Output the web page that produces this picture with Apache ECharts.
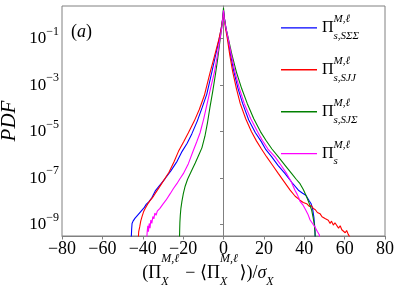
<!DOCTYPE html>
<html><head><meta charset="utf-8">
<script src="https://cdn.jsdelivr.net/npm/echarts@6/dist/echarts.min.js"></script>
<style>html,body{margin:0;padding:0;background:#fff}#c{width:399px;height:290px}</style>
</head><body><div id="c"></div>
<script>
// ---- data (x in units of sigma, values are log10 of PDF) ----
const xTicks = [-80, -60, -40, -20, 0, 20, 40, 60, 80];
const yTickExps = [-9, -7, -5, -3, -1];
const seriesNames = ['SΣΣ', 'SJJ', 'SJΣ', 's'];
const legendSubs = ['s,SΣΣ', 's,SJJ', 's,SJΣ', 's'];
const colors = ['#0000ff', '#ff0000', '#008000', '#ff00ff'];

const blueX = [-45.7,-45.5,-45.3,-44.8,-44.3,-43.8,-43.2,-42.6,-41.8,-41.0,-40.2,-39.2,-38.2,-37.0,-35.5,-33.8,-31.5,-29,-26,-23,-20.5,-18,-15.7,-13,-10.5,-8.3,-5.8,-4,-2.2,-1.2,-0.5,0,
  0.5,1.2,2.2,3.5,5.2,7.2,9.5,12.5,15.8,18.5,21,23.9,27,30.5,34,37.1,39.2,40.8,42.3,43.4,44.2,44.8,45.2,45.5];
const blueLog = [-9.6,-9.2,-8.95,-8.85,-8.9,-8.72,-8.66,-8.6,-8.52,-8.44,-8.38,-8.26,-8.12,-8.02,-7.85,-7.55,-7.3,-7.03,-6.68,-6.28,-5.85,-5.5,-5.1,-4.55,-3.95,-3.4,-2.45,-1.75,-1.05,-0.6,-0.2,0.2,
  -0.15,-0.55,-1.0,-1.7,-2.44,-3.15,-3.8,-4.5,-5.05,-5.4,-5.78,-6.09,-6.45,-6.81,-7.2,-7.52,-7.65,-7.74,-7.95,-8.1,-8.35,-8.7,-9.1,-9.6];

const redX = [-42.2,-42.0,-41.5,-41.0,-40.4,-39.6,-38.8,-37.6,-36.5,-35,-33.9,-32,-30,-27,-24.5,-22.3,-19.8,-17.4,-14.5,-12,-9.5,-6.6,-4.3,-2.2,-1.1,-0.4,0,
  0.4,1.0,1.9,3.1,4.6,6.4,8.3,11,13.8,16.3,18.8,21.4,24.3,27.2,30,33,35.5,37.9,39.5,41.2,42.5,43.5,44.5,45.5,46.5,47.8,48.8,49.6,50.5,51.9,52.8,53.5,54.4,55.2,56.1,57,57.8,58.6,59.4,60.3,61,61.8,62.5,63];
const redLog = [-9.6,-9.3,-9.1,-8.85,-8.67,-8.45,-8.31,-8.12,-7.98,-7.82,-7.67,-7.42,-7.15,-6.75,-6.3,-5.85,-5.45,-5.05,-4.55,-4.05,-3.45,-2.44,-1.7,-1.0,-0.55,-0.15,0.12,
  -0.15,-0.55,-1.0,-1.7,-2.44,-3.15,-3.8,-4.45,-5.0,-5.4,-5.75,-6.09,-6.45,-6.81,-7.15,-7.52,-7.78,-7.95,-8.05,-8.1,-8.22,-8.18,-8.31,-8.36,-8.48,-8.53,-8.66,-8.6,-8.75,-8.81,-8.95,-8.85,-9.02,-8.92,-8.98,-9.15,-9.05,-9.22,-9.17,-9.35,-9.25,-9.42,-9.38,-9.6];

const greenX = [-21.8,-21.7,-21.6,-21.4,-21.1,-20.6,-19.9,-19.0,-17.8,-16,-14,-12.3,-10.7,-9.2,-7.9,-6.7,-5.4,-4.1,-3.0,-1.9,-1.0,-0.4,0,
  0.4,1.2,2.4,4.2,6.4,9,11.8,15,18.3,21,24,27.2,30.5,33.8,36,37.9,39.6,41.2,42.5,43.7,44.4,45.0,45.3,45.4];
const greenLog = [-9.6,-9.2,-8.9,-8.6,-8.3,-8.0,-7.67,-7.35,-7.05,-6.72,-6.35,-6.02,-5.7,-5.2,-4.6,-3.95,-3.3,-2.6,-1.95,-1.2,-0.6,-0.15,0.32,
  -0.1,-0.55,-1.0,-1.7,-2.44,-3.15,-3.8,-4.45,-5.0,-5.37,-5.75,-6.09,-6.45,-6.81,-7.05,-7.24,-7.5,-7.81,-8.1,-8.39,-8.7,-9.0,-9.3,-9.6];

const magentaX = [-38.0,-37.8,-37.5,-37.2,-36.8,-36.4,-36.0,-35.5,-35.0,-34.5,-34.0,-33.4,-32.8,-32.2,-31.5,-30.8,-30.0,-28.5,-26.4,-24.8,-23.1,-21.5,-19.9,-17.4,-14.9,-13.3,-11.6,-9.8,-8.1,-6.3,-4.5,-3.0,-1.7,-0.8,-0.3,0,
  0.4,1.1,2.3,3.9,5.7,7.9,10.3,13.5,16.8,19.2,22,25.5,28.5,31.3,33.5,35.4,36.5,37.3,37.9,38.6,39.3,40.0,40.6,41.2,41.8,42.4,42.9,43.5,44.1,44.7,45.3,45.9,46.5,47.0,47.5,47.8];
const magentaLog = [-9.6,-9.3,-9.05,-9.3,-8.95,-9.15,-8.8,-8.95,-8.65,-8.75,-8.5,-8.6,-8.42,-8.5,-8.3,-8.35,-8.12,-7.95,-7.67,-7.45,-7.24,-7.02,-6.81,-6.38,-5.8,-5.45,-5.05,-4.45,-3.8,-3.1,-2.44,-1.7,-1.0,-0.5,-0.1,0.22,
  -0.15,-0.5,-1.0,-1.7,-2.44,-3.15,-3.8,-4.45,-5.0,-5.37,-5.75,-6.09,-6.45,-6.81,-7.15,-7.52,-7.7,-7.85,-8.0,-7.95,-8.15,-8.1,-8.35,-8.3,-8.55,-8.5,-8.8,-8.75,-8.95,-8.9,-9.1,-9.05,-9.3,-9.25,-9.45,-9.6];

const seriesX = [blueX, redX, greenX, magentaX];
const seriesLog = [blueLog, redLog, greenLog, magentaLog];

// ---- layout helpers ----
const FF = '"Liberation Serif", "DejaVu Serif", serif';
const ctx = document.createElement('canvas').getContext('2d');
function tw(t, px, st) { ctx.font = (st || 'normal') + ' ' + px + 'px ' + FF; return ctx.measureText(t).width; }
function tok(o) { return Object.assign({ fontFamily: FF, color: '#000', align: 'left', verticalAlign: 'middle' }, o); }

const MAIN = 18, SUB = 12;
const wSup = tw('M,ℓ', SUB, 'italic') + 1.5;
const W1 = tw('(Π', MAIN), W2 = tw(' − ⟨Π', MAIN), W3 = tw('⟩)/', MAIN), WS = tw('σ', MAIN, 'italic'), WX = tw('X', SUB, 'italic') + 1;
const xName =
  '{g1| }{u|M,ℓ}{g2| }{u|M,ℓ}{g3| }\n' +
  '{m1|(Π}{s|X}{m2| − ⟨Π}{s|X}{m3|⟩)/}{i|σ}{s2|X}';
const L1 = { fontSize: SUB, lineHeight: 10 };
const MS = { fontSize: MAIN, lineHeight: 20, padding: [0, 0, 2.4, 0] };
const SS = { fontSize: SUB, fontStyle: 'italic', lineHeight: 12, padding: [15.4, 0, 0, 0] };
const xRich = {
  g1: tok(Object.assign({ width: W1 }, L1)),
  g2: tok(Object.assign({ width: W2 }, L1)),
  g3: tok(Object.assign({ width: W3 + WS + WX }, L1)),
  u: tok(Object.assign({ fontStyle: 'italic', width: wSup }, L1)),
  m1: tok(Object.assign({ width: W1 }, MS)),
  m2: tok(Object.assign({ width: W2 }, MS)),
  m3: tok(Object.assign({ width: W3 }, MS)),
  i: tok(Object.assign({ width: WS, fontStyle: 'italic' }, MS)),
  s: tok(Object.assign({ width: wSup }, SS)),
  s2: tok(Object.assign({ width: WX }, SS))
};

const LP = 16, LS = 11;
const legendRich = {
  g: tok({ width: tw('Π', LP), fontSize: LS, lineHeight: 14, padding: [0, 0, 2.8, 0] }),
  u: tok({ fontSize: LS, fontStyle: 'italic', lineHeight: 14, padding: [0, 0, 2.8, 0] }),
  p: tok({ fontSize: LP, lineHeight: 14, padding: [0, 0, 14, 0] }),
  d: tok({ fontSize: LS, fontStyle: 'italic', lineHeight: 14, padding: [2, 0, 0, 0] })
};

const chart = echarts.init(document.getElementById('c'), null, { renderer: 'canvas' });
const series = seriesNames.map((n, k) => ({
  name: n,
  type: 'line',
  data: seriesX[k].map((x, i) => [x, Math.pow(10, seriesLog[k][i])]),
  showSymbol: false,
  symbol: 'none',
  clip: true,
  lineStyle: { color: colors[k], width: 1.1 },
  itemStyle: { color: colors[k] },
  animation: false
}));

chart.setOption({
  animation: false,
  backgroundColor: '#fff',
  title: {
    text: '({i|a})', left: 71, top: 23, padding: 0,
    textStyle: { fontFamily: FF, fontSize: 18, fontWeight: 'normal', color: '#000',
      rich: { i: { fontFamily: FF, fontSize: 18, fontStyle: 'italic', color: '#000' } } }
  },
  grid: { left: 62, right: 14, top: 6, bottom: 54, containLabel: false, outerBoundsMode: 'none',
    show: true, borderColor: '#808080', borderWidth: 1, backgroundColor: 'transparent' },
  legend: {
    orient: 'vertical', left: 281, top: 14, padding: 0, itemWidth: 36, itemHeight: 1.4, itemGap: 6,
    icon: 'rect',
    data: seriesNames,
    formatter: n => '{g| }{u|M,ℓ}\n{p|Π}{d|' + legendSubs[seriesNames.indexOf(n)] + '}',
    textStyle: { fontFamily: FF, color: '#000', rich: legendRich }
  },
  xAxis: {
    type: 'value', min: -80, max: 80, interval: 20,
    axisLine: { show: true, onZero: false, lineStyle: { color: '#808080' } },
    axisTick: { show: true, length: 3.5, inside: false, lineStyle: { color: '#808080' } },
    splitLine: { show: false },
    axisLabel: { fontFamily: FF, fontSize: 18, color: '#000', margin: 4,
      formatter: v => (v < 0 ? '−' + (-v) : '' + v) },
    name: xName, nameLocation: 'middle', nameGap: 18, nameMoveOverlap: false,
    nameTextStyle: { fontFamily: FF, color: '#000', rich: xRich, padding: [0, 30, 0, 0] }
  },
  yAxis: {
    type: 'log', logBase: 10, min: Math.pow(10, -9.49), max: Math.pow(10, 0.40),
    axisLine: { show: true, lineStyle: { color: '#808080' } },
    axisTick: { show: true, length: 3.5, customValues: yTickExps.map(e => Math.pow(10, e)), lineStyle: { color: '#808080' } },
    splitLine: { show: false },
    minorTick: { show: false },
    axisLabel: {
      customValues: yTickExps.map(e => Math.pow(10, e)),
      margin: 3,
      formatter: v => { const e = Math.round(Math.log10(v)); return '{a|10}{b|' + (e < 0 ? '−' + (-e) : e) + '}'; },
      rich: {
        a: tok({ fontSize: 17, lineHeight: 17 }),
        b: tok({ fontSize: 12, lineHeight: 12, padding: [0, 0, 14, 0] })
      }
    },
    name: 'PDF', nameLocation: 'middle', nameGap: 42, nameMoveOverlap: false,
    nameTextStyle: { fontFamily: FF, fontStyle: 'italic', fontSize: 21, color: '#000' }
  },
  series: series
});
</script>
</body></html>
